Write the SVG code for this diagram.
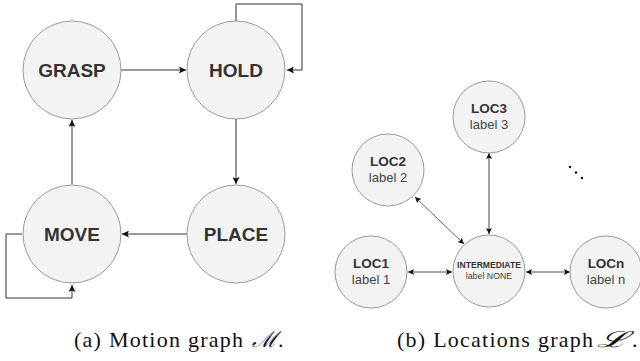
<svg xmlns="http://www.w3.org/2000/svg" width="640" height="361" viewBox="0 0 640 361">
<defs>
<style>
.n{fill:#f3f3f3;stroke:#9a9a9a;stroke-width:1}
.t{font-family:"Liberation Sans",Arial,sans-serif;font-weight:bold;fill:#333;text-anchor:middle}
.l{font-family:"Liberation Sans",Arial,sans-serif;fill:#444;text-anchor:middle}
.e{fill:none;stroke:#333;stroke-width:1}
.g{fill:none;stroke:#888;stroke-width:1.6}
.d{fill:none;stroke:#222;stroke-width:0.7}
.c{font-family:"Liberation Serif",serif;font-size:22px;fill:#111}
.s{font-family:"DejaVu Serif",serif;font-style:italic;font-size:22px;fill:#111}
</style>
<marker id="a" viewBox="0 0 10 10" refX="10" refY="5" markerWidth="7" markerHeight="7" markerUnits="userSpaceOnUse" orient="auto-start-reverse">
<path d="M0,0 L10,5 L0,10 L2,5 Z" fill="#111"/>
</marker>
<marker id="b" viewBox="0 0 10 10" refX="10" refY="5" markerWidth="6" markerHeight="6" markerUnits="userSpaceOnUse" orient="auto-start-reverse">
<path d="M0,0 L10,5 L0,10 L2,5 Z" fill="#111"/>
</marker>
</defs>
<g id="connectors">
<path class="e" d="M121,70 H186" marker-end="url(#a)"/>
<path class="e" d="M236,119 V184" marker-end="url(#a)"/>
<path class="e" d="M187,234 H122" marker-end="url(#a)"/>
<path class="e" d="M72,184 V120" marker-end="url(#a)"/>
<path class="e" d="M236,21 V4 H302 V70 H287" marker-end="url(#a)"/>
<path class="e" d="M22,234 H6 V298 H72 V285" marker-end="url(#a)"/>
<path class="g" d="M408,272 H452" marker-start="url(#b)" marker-end="url(#b)"/>
<path class="g" d="M526,272 H570" marker-start="url(#b)" marker-end="url(#b)"/>
<path class="g" d="M489,153 V234" marker-start="url(#b)" marker-end="url(#b)"/>
<path class="d" d="M415,197 L464,244" marker-start="url(#b)" marker-end="url(#b)"/>
</g>
<g id="GRASP"><circle class="n" cx="72" cy="70" r="49"/><text class="t" x="72" y="77" font-size="19">GRASP</text></g>
<g id="HOLD"><circle class="n" cx="236" cy="70" r="49"/><text class="t" x="236" y="77" font-size="19">HOLD</text></g>
<g id="MOVE"><circle class="n" cx="72" cy="234" r="49"/><text class="t" x="72" y="241" font-size="19">MOVE</text></g>
<g id="PLACE"><circle class="n" cx="236" cy="234" r="49"/><text class="t" x="236" y="241" font-size="19">PLACE</text></g>
<g id="LOC3"><circle class="n" cx="489" cy="117" r="36"/><text class="t" x="489" y="113" font-size="13.5">LOC3</text><text class="l" x="489" y="129" font-size="13">label 3</text></g>
<g id="LOC2"><circle class="n" cx="388" cy="170" r="36"/><text class="t" x="388" y="166" font-size="13.5">LOC2</text><text class="l" x="388" y="182" font-size="13">label 2</text></g>
<g id="LOC1"><circle class="n" cx="371" cy="272" r="36"/><text class="t" x="371" y="268" font-size="13.5">LOC1</text><text class="l" x="371" y="284" font-size="13">label 1</text></g>
<g id="INTERMEDIATE"><circle class="n" cx="489" cy="271" r="36"/><text class="t" x="489" y="268" font-size="8.6">INTERMEDIATE</text><text class="l" x="489" y="279" font-size="8.8">label NONE</text></g>
<g id="LOCn"><circle class="n" cx="606" cy="272" r="36"/><text class="t" x="606" y="268" font-size="13.5">LOCn</text><text class="l" x="606" y="284" font-size="13">label n</text></g>
<g id="dots" fill="#111"><circle cx="570" cy="167" r="1.2"/><circle cx="576" cy="172.5" r="1.2"/><circle cx="582" cy="178" r="1.2"/></g>
<text class="c" x="74" y="347" textLength="169" lengthAdjust="spacing">(a) Motion graph</text>
<text class="s" x="252" y="347" textLength="25" lengthAdjust="spacingAndGlyphs">ℳ</text>
<text class="c" x="278" y="347">.</text>
<text class="c" x="397" y="347" textLength="196" lengthAdjust="spacing">(b) Locations graph</text>
<text class="s" x="597" y="347" textLength="31" lengthAdjust="spacingAndGlyphs">ℒ</text>
<text class="c" x="632" y="347">.</text>
</svg>
